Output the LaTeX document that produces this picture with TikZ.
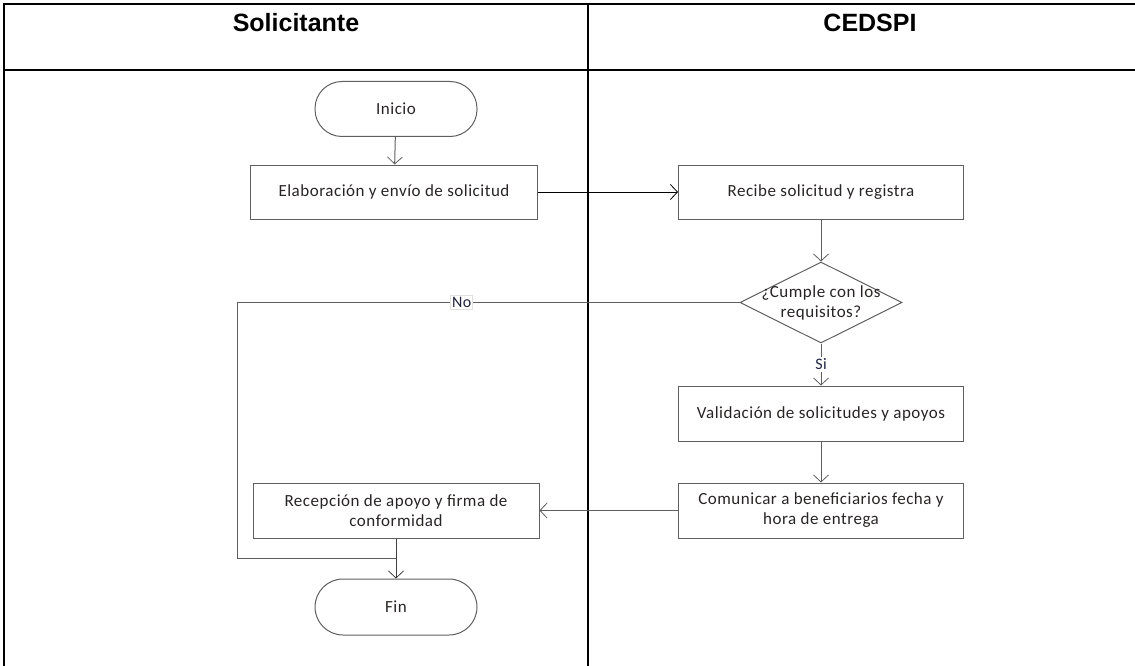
\documentclass[tikz,border=0pt]{standalone}
\usepackage{fontspec}
\setmainfont{Carlito}[LetterSpace=3]
\newfontfamily\hdrfont{Liberation Sans}
\usetikzlibrary{shapes.geometric,arrows.meta}
\definecolor{linegray}{RGB}{95,95,95}
\definecolor{txt}{RGB}{40,36,36}
\definecolor{lbltxt}{RGB}{30,35,60}
\begin{document}
\begin{tikzpicture}[x=1pt,y=-1pt,
  body/.style={font=\fontsize{17}{20}\selectfont, text=txt},
  stepbox/.style={body, draw=linegray, line width=1pt, minimum width=285pt, minimum height=54pt, inner sep=0pt, align=center},
  term/.style={body, draw=linegray, line width=1pt, rounded corners=27pt, minimum width=162pt, minimum height=55pt, inner sep=0pt},
  decision/.style={diamond, draw=linegray, line width=1pt, minimum width=162pt, minimum height=81pt, inner sep=0pt},
  flow/.style={draw=linegray, line width=1pt, -{Straight Barb[length=7pt,width=15pt,line width=0.8pt]}},
  lane/.style={line width=2pt, draw=black},
  hdr/.style={font=\hdrfont\bfseries\fontsize{25}{30}\selectfont, inner sep=0pt},
  edgelbl/.style={fill=white, inner sep=1.5pt, font=\fontsize{16}{18}\selectfont, text=lbltxt}
]
\useasboundingbox (0,0) rectangle (1135,666);
% swimlane table
\draw[lane] (1140,4) -- (4,4) -- (4,672);
\draw[lane] (4,70) -- (1140,70);
\draw[lane] (588,4) -- (588,672);
\node[hdr] (h1) at (296,23) {Solicitante};
\node[hdr] (h2) at (870,23) {CEDSPI};

% nodes
\node[term] (ini) at (396,109) {Inicio};
\node[stepbox, minimum width=287pt] (ela) at (394,192) {Elaboración y envío de solicitud};
\node[stepbox] (rec) at (821,192) {Recibe solicitud y registra};
\node[decision] (dec) at (821,302.5) {};
\node[body, align=center, inner sep=0pt] (dect) at (821,303) {¿Cumple con los\\requisitos?};
\node[stepbox, minimum height=55pt] (val) at (821,413.5) {Validación de solicitudes y apoyos};
\node[stepbox, minimum height=55pt] (com) at (821,510.5) {Comunicar a beneficiarios fecha y\\hora de entrega};
\node[stepbox, minimum width=286pt, minimum height=55pt] (rcp) at (396,510.5) {Recepción de apoyo y firma de\\conformidad};
\node[term, minimum height=56pt, rounded corners=28pt] (fin) at (396,607) {Fin};

\coordinate (lp) at (237,302.5);
\coordinate (jn) at (396,558);

% connectors
\draw[flow] (ini) -- (ela);
\draw[flow, draw=black] (ela) -- (rec);
\draw[flow] (rec) -- (dec.north);
\draw[flow] (dec.south) -- node[edgelbl] (si) {Si} (val);
\draw[flow] (val) -- (com);
\draw[flow] (com) -- (rcp);
\draw[flow, draw=black!75] (rcp) -- (fin);
\draw[draw=linegray, line width=1pt] (dec.west) -- node[edgelbl, draw=black!12, pos=0.553] (no) {No} (lp) |- (jn);
\end{tikzpicture}
\end{document}
